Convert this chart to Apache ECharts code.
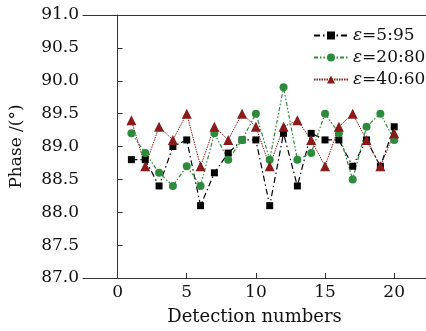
<!DOCTYPE html>
<html><head><meta charset="utf-8">
<script src="https://cdn.jsdelivr.net/npm/echarts@6/dist/echarts.min.js"></script>
<style>html,body{margin:0;padding:0;background:#fff}#c{width:426px;height:331px}</style>
</head><body><div id="c"></div>
<script>
const detection = [1,2,3,4,5,6,7,8,9,10,11,12,13,14,15,16,17,18,19,20];
const eps5_95  = [88.8,88.8,88.4,89.0,89.1,88.1,88.6,88.9,89.1,89.1,88.1,89.2,88.4,89.2,89.1,89.1,88.7,89.1,88.7,89.3];
const eps20_80 = [89.2,88.9,88.6,88.4,88.7,88.4,89.2,88.8,89.1,89.5,88.8,89.9,88.8,88.9,89.5,89.2,88.5,89.3,89.5,89.1];
const eps40_60 = [89.4,88.7,89.3,89.1,89.5,88.7,89.3,89.1,89.5,89.3,88.7,89.3,89.4,89.1,88.7,89.3,89.5,89.1,88.7,89.2];
const seriesNames = ['ε=5:95','ε=20:80','ε=40:60'];
const xTicks = [0,5,10,15,20];
const yTicks = [87.0,87.5,88.0,88.5,89.0,89.5,90.0,90.5,91.0];

const font = 'DejaVu Serif';
const pair = arr => detection.map((d,i)=>[d,arr[i]]);
const chart = echarts.init(document.getElementById('c'));
chart.setOption({
  animation:false,
  backgroundColor:'#fff',
  grid:{left:77,right:0,top:15,bottom:48},
  legend:{
    orient:'vertical', left:308, top:21, itemWidth:34, itemHeight:10, itemGap:3,
    data:seriesNames,
    formatter: n => '{i|ε}' + n.slice(1),
    textStyle:{fontFamily:font,fontSize:17,color:'#111',lineHeight:19,
      rich:{i:{fontFamily:font,fontStyle:'italic',fontSize:17,color:'#111'}}}
  },
  xAxis:[{
    type:'value', min:-2.5, max:22.3,
    name:'Detection numbers', nameLocation:'middle', nameGap:30,
    nameTextStyle:{fontFamily:font,fontSize:18,color:'#111'},
    axisLine:{show:true,onZero:false,lineStyle:{color:'#333',width:1}},
    axisTick:{show:true,inside:true,length:5,customValues:xTicks,lineStyle:{color:'#333'}},
    axisLabel:{customValues:xTicks,fontFamily:font,fontSize:17,color:'#111',margin:6},
    splitLine:{show:false}
  },{
    type:'value', position:'top', min:-2.5, max:22.3,
    axisLine:{show:true,lineStyle:{color:'#333',width:1}},
    axisTick:{show:false}, axisLabel:{show:false}, splitLine:{show:false}
  }],
  yAxis:{
    type:'value', min:87, max:91, interval:0.5,
    name:'Phase /(°)', nameLocation:'middle', nameGap:58,
    nameTextStyle:{fontFamily:font,fontSize:17,color:'#111'},
    axisLine:{show:true,lineStyle:{color:'#333',width:1}},
    axisTick:{show:true,inside:true,length:5,customValues:yTicks,lineStyle:{color:'#333'}},
    axisLabel:{customValues:yTicks,fontFamily:font,fontSize:17,color:'#111',margin:4,formatter:v=>Number(v).toFixed(1)},
    splitLine:{show:false}
  },
  series:[
    {name:seriesNames[0],type:'line',data:pair(eps5_95),symbol:'rect',symbolSize:7,
     itemStyle:{color:'#000'},lineStyle:{color:'#000',width:1.2,type:[6,3,1.5,3]}},
    {name:seriesNames[1],type:'line',data:pair(eps20_80),symbol:'circle',symbolSize:8,
     itemStyle:{color:'#2e8b3e'},lineStyle:{color:'#2e8b3e',width:1.2,type:[4,2,1.5,2,1.5,2]}},
    {name:seriesNames[2],type:'line',data:pair(eps40_60),symbol:'triangle',symbolSize:10,
     itemStyle:{color:'#8b1a1a'},lineStyle:{color:'#8b1a1a',width:1,type:[1.5,1]}}
  ]
});
</script></body></html>
